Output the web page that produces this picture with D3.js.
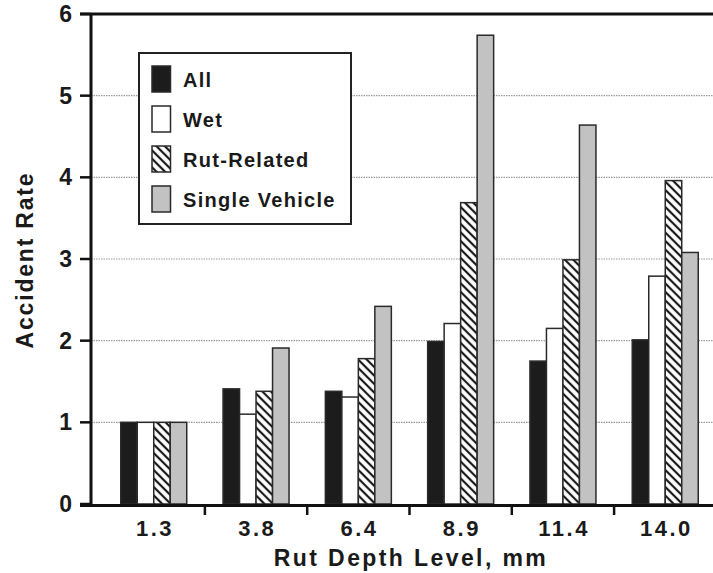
<!DOCTYPE html>
<html>
<head>
<meta charset="utf-8">
<script src="https://cdn.jsdelivr.net/npm/d3@7"></script>
<style>
  body { margin: 0; background: #fff; }
  text { font-family: Arial, "Liberation Sans", sans-serif; font-weight: bold; fill: #1a1a1a; }
</style>
</head>
<body>
<div id="chart"></div>
<script>
var categories = ["1.3", "3.8", "6.4", "8.9", "11.4", "14.0"];
var seriesNames = ["All", "Wet", "Rut-Related", "Single Vehicle"];
var allVals = [1, 1.41, 1.38, 1.99, 1.75, 2.01];
var wetVals = [1, 1.10, 1.31, 2.21, 2.15, 2.79];
var rutVals = [1, 1.38, 1.78, 3.69, 2.99, 3.96];
var singleVals = [1, 1.91, 2.42, 5.74, 4.64, 3.08];
var yTicks = [0, 1, 2, 3, 4, 5, 6];

var width = 713, height = 573;
var axisX = 91;

var svg = d3.select("#chart").append("svg")
    .attr("width", width)
    .attr("height", height);

// hatch for rut-related
var defs = svg.append("defs");
var pat = defs.append("pattern")
    .attr("id", "hatch")
    .attr("patternUnits", "userSpaceOnUse")
    .attr("width", 6).attr("height", 6)
    .attr("patternTransform", "rotate(45)");
pat.append("rect").attr("width", 6).attr("height", 6).attr("fill", "#fff");
pat.append("line").attr("x1", 0).attr("y1", 3).attr("x2", 6).attr("y2", 3)
    .attr("stroke", "#1a1a1a").attr("stroke-width", 2.2);

var fills = ["#1c1c1c", "#ffffff", "url(#hatch)", "#c2c2c2"];
var series = [allVals, wetVals, rutVals, singleVals];

var y = d3.scaleLinear().domain([0, 6]).range([504, 14]);

var x0 = d3.scaleBand()
    .domain(categories)
    .range([102.6, 716.4])
    .paddingInner(0.355)
    .paddingOuter(0.1775);

var x1 = d3.scaleBand()
    .domain(seriesNames)
    .range([0, x0.bandwidth()]);

// gridlines
svg.append("g")
    .selectAll("line")
    .data(yTicks.filter(function (d) { return d > 0 && d < 6; }))
    .enter().append("line")
    .attr("x1", axisX).attr("x2", width)
    .attr("y1", function (d) { return y(d); })
    .attr("y2", function (d) { return y(d); })
    .attr("stroke", "#9a9a9a")
    .attr("stroke-width", 1.2)
    .attr("stroke-dasharray", "1.5,1");

// bars
var rows = categories.map(function (c, i) {
    return { cat: c, vals: series.map(function (s, j) { return { name: seriesNames[j], v: s[i], k: j }; }) };
});

var groups = svg.append("g").selectAll("g")
    .data(rows)
    .enter().append("g")
    .attr("transform", function (d) { return "translate(" + x0(d.cat) + ",0)"; });

groups.selectAll("rect")
    .data(function (d) { return d.vals; })
    .enter().append("rect")
    .attr("x", function (d) { return x1(d.name); })
    .attr("width", x1.bandwidth())
    .attr("y", function (d) { return y(d.v); })
    .attr("height", function (d) { return y(0) - y(d.v); })
    .attr("fill", function (d) { return fills[d.k]; })
    .attr("stroke", "#2a2a2a")
    .attr("stroke-width", 1.5);

// legend
var legend = svg.append("g");
legend.append("rect")
    .attr("x", 139).attr("y", 53)
    .attr("width", 212).attr("height", 171)
    .attr("fill", "#fff")
    .attr("stroke", "#222")
    .attr("stroke-width", 2);

var items = legend.selectAll("g.item")
    .data(seriesNames)
    .enter().append("g")
    .attr("class", "item")
    .attr("transform", function (d, i) { return "translate(152," + (66 + i * 40) + ")"; });

items.append("rect")
    .attr("width", 18.5).attr("height", 26)
    .attr("fill", function (d, i) { return fills[i]; })
    .attr("stroke", "#2a2a2a")
    .attr("stroke-width", 1.5);

items.append("text")
    .attr("x", 31).attr("y", 20.5)
    .attr("font-size", 20)
    .attr("letter-spacing", 1.3)
    .text(function (d) { return d; });

// y axis
var yAxis = svg.append("g");
yAxis.append("line")
    .attr("x1", axisX).attr("x2", axisX)
    .attr("y1", y(6)).attr("y2", y(0) + 1.5)
    .attr("stroke", "#111").attr("stroke-width", 3);
yAxis.selectAll("line.tick")
    .data(yTicks)
    .enter().append("line")
    .attr("class", "tick")
    .attr("x1", 80).attr("x2", axisX)
    .attr("y1", function (d) { return y(d); })
    .attr("y2", function (d) { return y(d); })
    .attr("stroke", "#111").attr("stroke-width", 2.5);
yAxis.selectAll("text")
    .data(yTicks)
    .enter().append("text")
    .attr("x", 72)
    .attr("y", function (d) { return y(d) + 8; })
    .attr("text-anchor", "end")
    .attr("font-size", 23)
    .text(function (d) { return d; });

// top frame
svg.append("line")
    .attr("x1", 80).attr("x2", width)
    .attr("y1", y(6)).attr("y2", y(6))
    .attr("stroke", "#111").attr("stroke-width", 3);

// x axis
var xAxis = svg.append("g");
xAxis.append("line")
    .attr("x1", 80).attr("x2", width)
    .attr("y1", y(0) + 1.5).attr("y2", y(0) + 1.5)
    .attr("stroke", "#111").attr("stroke-width", 3);
xAxis.selectAll("line.tick")
    .data(categories.slice(1))
    .enter().append("line")
    .attr("class", "tick")
    .attr("x1", function (d) { return x0(d) - x0.step() * x0.paddingInner() / 2; })
    .attr("x2", function (d) { return x0(d) - x0.step() * x0.paddingInner() / 2; })
    .attr("y1", y(0)).attr("y2", y(0) + 11)
    .attr("stroke", "#111").attr("stroke-width", 2.5);
xAxis.selectAll("text")
    .data(categories)
    .enter().append("text")
    .attr("x", function (d) { return x0(d) + x0.bandwidth() / 2 + 1.2; })
    .attr("y", 536)
    .attr("text-anchor", "middle")
    .attr("font-size", 22)
    .attr("letter-spacing", 2.5)
    .text(function (d) { return d; });

// axis titles
svg.append("text")
    .attr("x", 411).attr("y", 566)
    .attr("text-anchor", "middle")
    .attr("font-size", 23)
    .attr("letter-spacing", 2.4)
    .text("Rut Depth Level, mm");

svg.append("text")
    .attr("transform", "translate(33,260) rotate(-90)")
    .attr("text-anchor", "middle")
    .attr("font-size", 23)
    .attr("letter-spacing", 1.8)
    .text("Accident Rate");
</script>
</body>
</html>
